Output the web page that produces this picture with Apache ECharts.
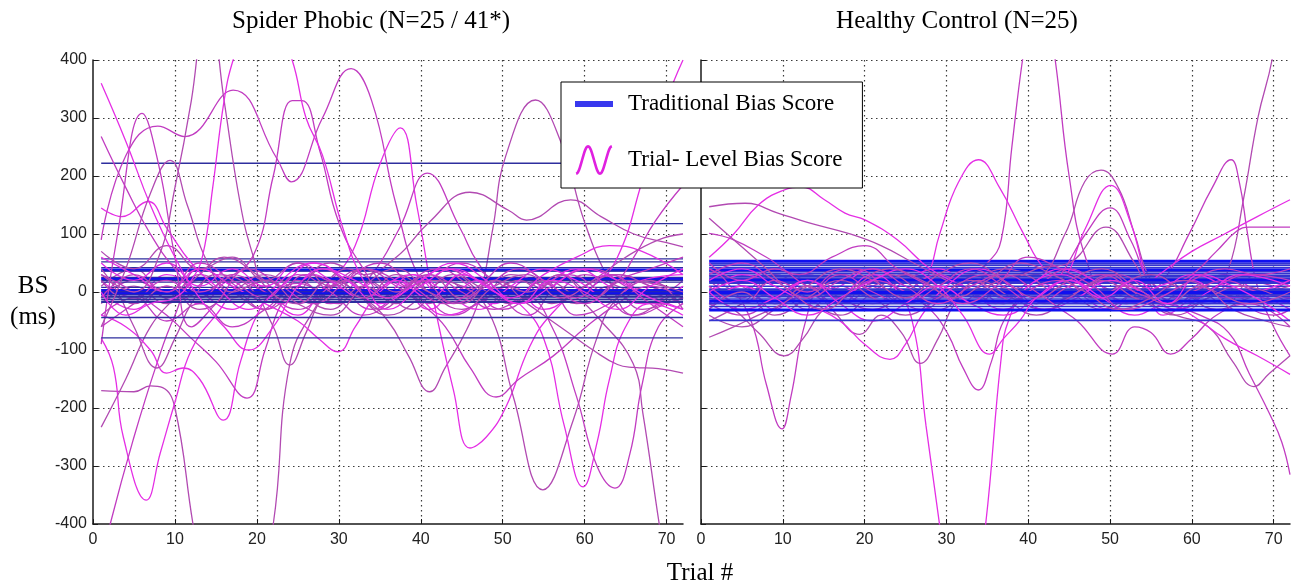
<!DOCTYPE html>
<html>
<head>
<meta charset="utf-8">
<script src="https://cdn.jsdelivr.net/npm/echarts@6/dist/echarts.min.js"></script>
<style>html,body{margin:0;padding:0;background:#fff}#chart{width:1291px;height:588px}</style>
</head>
<body>
<div id="chart"></div>
<script>
// ---------------- DATA ----------------
const panelTitles = ['Spider Phobic (N=25 / 41*)', 'Healthy Control (N=25)'];
const xTicks = [0, 10, 20, 30, 40, 50, 60, 70];
const yTicks = [-400, -300, -200, -100, 0, 100, 200, 300, 400];
const legendNames = ['Traditional Bias Score', 'Trial- Level Bias Score'];

// Traditional (mean) bias score per participant, ms
const spiderTraditional = [222, 118, 57, 52, 42, 38, 36, 25, 22, 20, 17, 8, 4, 2, 0, -1, -3, -5, -8, -10, -13, -16, -18, -44, -79];
const controlTraditional = [53, 49, 46, 42, 38, 35, 32, 29, 26, 23, 20, 17, 15, 10, 5, 2, -1, -5, -8, -12, -16, -20, -25, -31, -49];

// Trial-level bias score curves: [trial, BS] points
const spiderTrial = [
 [[1,90],[4,235],[7.9,286],[11.2,268],[17.1,348],[22.4,231],[24.2,190],[28,300],[31.5,385],[34,330],[37,150],[40,20],[44,-40],[48,-10],[52,20],[56,0],[60,30],[64,10],[68,-10],[72,20]],
 [[1,-20],[5,10],[9,-20],[13,20],[17,-10],[21,20],[25,-10],[29,20],[33,-10],[36,-50],[38.5,-110],[41.1,-172],[43,-130],[45.6,-65],[47.2,-8],[48.8,110],[50.4,236],[54,331],[57,262],[60,120],[63,20],[66,-40],[69,-20],[72,10]],
 [[1,20],[5,-10],[9,30],[13,0],[17,-30],[21,10],[25,-20],[29,20],[32,80],[35,220],[37.5,283],[39.5,150],[41.5,-10],[44,-170],[46,-269],[48,-250],[50.4,-198],[53.3,-94],[56,-37],[60,10],[64,30],[68,10],[72,-20]],
 [[1,-10],[5,20],[10,-15],[15,25],[20,-5],[25,15],[30,-20],[34,30],[37.4,110],[40.8,205],[44.8,110],[47,50],[51,-10],[55,20],[59,-40],[63,-20],[67,20],[72,-5]],
 [[1,10],[5,40],[9,-10],[13,30],[17,0],[21,-30],[25,10],[29,50],[33,30],[37,60],[41,120],[46,172],[50.7,141],[52.9,124],[58.3,159],[62,130],[66,100],[70,85],[72,78]],
 [[1,0],[5,-30],[9,10],[13,-20],[17,20],[21,0],[25,-40],[29,10],[33,-10],[37,20],[41,-30],[45,10],[49,-20],[53,20],[57,-10],[61,10],[64,60],[67,190],[70,330],[72,400]],
 [[1,-40],[5,-10],[9,-50],[13,-20],[17,-60],[21,-30],[25,10],[29,-20],[33,20],[37,-10],[41,20],[45,50],[49,20],[53,-10],[57,30],[61,0],[64,20],[66,60],[68.7,124],[72,184]],
 [[1,-170],[5,-172],[7,-162],[8.5,-165],[10,-200],[12.2,-400],[17,-800],[22,-400],[24,-125],[27,-30],[31,40],[35,10],[39,-30],[43,20],[47,-10],[51,30],[55,10],[59,-20],[63,10],[67,-30],[72,0]],
 [[1,-80],[2.5,-130],[3.7,-250],[6.5,-359],[8.2,-278],[10,-190],[12,-100],[15,-40],[19,20],[23,-20],[27,30],[31,-10],[35,20],[39,0],[43,-40],[47,-20],[51,10],[55,-30],[59,0],[63,30],[67,0],[72,-30]],
 [[1,-470],[2.1,-400],[4.9,-255],[7.8,-123],[10,-40],[13,40],[17,10],[21,-30],[25,20],[29,-10],[33,40],[37,20],[41,-20],[45,30],[49,0],[53,-40],[57,20],[61,40],[65,10],[69,-20],[72,-10]],
 [[1,-233],[4,-150],[7,-60],[10,-10],[13,30],[16,60],[20,30],[24,-10],[28,40],[32,0],[36,-40],[40,-10],[44,30],[48,0],[52,20],[56,-20],[60,10],[64,30],[68,10],[72,-10]],
 [[1,-40],[4,-60],[7,-100],[9,-140],[11,-131],[13,-150],[15.9,-221],[18,-120],[20,-40],[23,20],[27,50],[31,20],[35,-10],[39,30],[43,-10],[47,20],[51,-20],[55,10],[59,40],[63,10],[67,-20],[72,10]],
 [[1,30],[5,0],[9,-40],[12,-80],[15,-120],[18.8,-183],[21,-100],[23,-20],[26,30],[30,10],[34,-30],[38,10],[42,40],[46,10],[50,-30],[54,0],[58,30],[62,0],[66,-40],[70,-20],[72,-10]],
 [[1,40],[3,0],[5,-60],[7.8,-131],[10,-80],[12,-20],[15,30],[19,10],[22,-60],[24,-126],[26,-70],[28,-10],[31,20],[35,-30],[39,10],[43,40],[47,10],[51,-20],[55,20],[59,-10],[62,-50],[65.9,-123],[67.1,-209],[69.1,-400],[70.5,-520]],
 [[1,60],[5,30],[9,0],[13,40],[17,10],[21,-20],[25,-50],[27.5,-80],[29.9,-103],[32,-60],[35,0],[39,30],[43,0],[47,-30],[51,10],[55,40],[59,20],[63,-10],[67,20],[72,30]],
 [[1,-60],[5,-20],[9,20],[13,-10],[17,30],[21,0],[25,-30],[29,10],[33,40],[37,10],[40,-20],[43,-60],[46,-130],[49.2,-181],[52,-150],[56.1,-111],[60.2,-60],[64,-20],[68,10],[72,-10]],
 [[1,20],[5,-20],[9,10],[13,-30],[17,0],[21,30],[25,0],[29,-30],[33,10],[37,-20],[41,20],[45,10],[48.4,-37],[51.3,-181],[54.9,-341],[58.6,-221],[61.4,-83],[64,-10],[68,20],[72,-30]],
 [[1,50],[5,20],[9,50],[13,10],[17,40],[21,10],[25,50],[29,20],[33,-10],[37,20],[41,-10],[45,30],[49,0],[52,-20],[55,-80],[57.5,-230],[59.8,-336],[61.5,-260],[63,-152],[65,-60],[68,-20],[72,-40]],
 [[1,-10],[5,30],[9,0],[13,50],[17,20],[21,-10],[25,30],[29,0],[33,-40],[37,-10],[41,30],[45,0],[49,-30],[53,-10],[56,-60],[59,-180],[61.5,-300],[63.7,-338],[65.5,-280],[67,-160],[69,-60],[72,-20]],
 [[1,70],[5,40],[9,80],[13,40],[17,60],[21,20],[25,50],[29,10],[33,40],[37,0],[41,30],[45,-10],[49,20],[53,-20],[57.6,-66],[61,-100],[64,-125],[66,-130],[69,-132],[72,-140]],
 [[1,145],[3.5,130],[6.7,156],[9,110],[12,50],[15,10],[19,-30],[23,10],[27,50],[31,20],[35,-20],[39,10],[43,40],[47,20],[51,-10],[55,30],[59,60],[63,80],[67,70],[72,30]],
 [[1,-90],[3,100],[6,308],[8,220],[10,60],[12,-60],[15,-20],[19,40],[23,10],[27,-20],[31,20],[35,50],[39,10],[43,-20],[47,10],[51,50],[55,20],[59,-10],[63,30],[67,-10],[72,-60]],
 [[1,-60],[4,40],[7,170],[9.4,227],[11.5,150],[14,50],[17,0],[21,20],[25,-20],[29,-40],[33,10],[37,40],[41,0],[45,-30],[49,10],[53,30],[57,-10],[61,20],[65,60],[69,90],[72,100]],
 [[1,360],[4,260],[7,150],[10,60],[13,-10],[16,-60],[19,-100],[22,-60],[25,10],[28,40],[32,20],[36,-10],[40,20],[44,50],[48,20],[52,-20],[56,10],[60,40],[64,20],[68,-10],[72,-30]],
 [[1,268],[4,180],[7,100],[10,40],[13,0],[16,20],[19.6,64],[22,200],[24.3,330],[25.5,330],[27.7,242],[30,120],[33,40],[36,-10],[40,20],[44,-20],[48,10],[52,40],[56,10],[60,-20],[64,20],[68,40],[72,60]],
 [[1,30],[5,0],[8,60],[10,180],[12,330],[14,520],[16,330],[18,150],[19.5,64],[21,10],[25,-20],[29,20],[33,-10],[37,30],[41,0],[45,-20],[49,20],[53,0],[57,30],[61,-10],[65,20],[72,0]],
 [[1,0],[4,-40],[7,-20],[10,-10],[12,20],[13.4,64],[14.6,179],[16,330],[17.1,400],[20.5,540],[24.3,400],[26,300],[28,236],[30.5,110],[33,20],[36,-30],[40,10],[44,40],[48,10],[52,-20],[56,20],[60,0],[64,-30],[68,10],[72,40]]
];

const controlTrial = [
 [[1,20],[5,-10],[9,30],[13,0],[17,-20],[21,10],[25,30],[29,0],[32,20],[35,50],[36.7,90],[38,250],[39.3,400],[41.3,580],[43.3,400],[45,200],[47,60],[50,-10],[54,20],[58,-10],[62,10],[66,-20],[70,-40],[72,-30]],
 [[1,-30],[5,0],[9,-20],[13,10],[17,-10],[21,20],[25,0],[29,-20],[33,10],[37,-10],[41,20],[45,0],[49,-30],[53,0],[57,20],[60,-10],[62.5,0],[64.5,40],[66.3,159],[68.1,302],[69.8,400],[72,600]],
 [[1,-20],[5,10],[9,-30],[13,20],[17,-10],[21,10],[25,-20],[27.5,20],[29.2,101],[31.5,190],[33.9,228],[36.5,180],[39.4,101],[42,40],[46,0],[50,-30],[54,10],[58,-20],[62,20],[66,0],[72,-20]],
 [[1,10],[5,-20],[9,0],[13,-30],[17,10],[21,-10],[25,20],[29,-10],[33,10],[37,-20],[41,10],[45,30],[49,0],[53,-20],[56.5,20],[59.7,101],[62.5,180],[64.8,228],[65.8,190],[66.8,101],[68,10],[70,-60],[72,-110]],
 [[1,30],[5,0],[9,40],[13,10],[17,-20],[21,20],[25,0],[29,-30],[33,10],[37,40],[41,30],[44.5,100],[46.9,190],[48.9,210],[51,180],[53,100],[55,20],[58,-20],[62,10],[66,-10],[72,20]],
 [[1,-30],[5,10],[9,-10],[13,30],[17,0],[21,-20],[25,20],[29,40],[33,0],[37,-30],[41,10],[44,20],[47,110],[50.1,184],[52.5,120],[54.5,20],[56.5,-40],[60,-10],[64,30],[68,0],[72,-30]],
 [[1,40],[5,10],[9,-20],[13,0],[17,30],[21,10],[25,-20],[29,10],[33,30],[37,0],[41,-20],[44,30],[47,100],[50,145],[52.5,90],[55,10],[58,-30],[62,-10],[66,20],[72,0]],
 [[1,-50],[5,-20],[9,20],[13,-10],[17,-40],[21,0],[25,30],[29,10],[33,-20],[37,10],[41,40],[45,50],[49.5,112],[53,50],[56,-20],[60,10],[64,-20],[68,30],[72,10]],
 [[1,0],[5,30],[9,10],[13,-20],[17,10],[21,40],[25,10],[29,-10],[33,20],[37,-10],[41,20],[45,-10],[49,20],[53,0],[56,30],[60,70],[64,100],[68,130],[72,159]],
 [[1,-20],[5,-40],[9,-10],[13,20],[17,-10],[21,-30],[25,0],[29,30],[33,0],[37,-20],[41,10],[45,40],[49,10],[53,-10],[57,10],[60,30],[63,70],[65.5,105],[67,112],[72,112]],
 [[1,147],[5.4,153],[9.4,136],[13,120],[18,101],[22,80],[26,50],[30,20],[34,-10],[38,10],[42,-20],[46,0],[50,30],[54,-10],[58,10],[62,-20],[66,0],[72,-10]],
 [[1,60],[4,100],[7,150],[10,175],[12.3,181],[15,160],[17.6,136],[20.1,124],[24,90],[28,40],[32,10],[36,-20],[40,10],[44,40],[48,20],[52,-20],[56,0],[60,30],[64,10],[68,-20],[72,-10]],
 [[1,40],[3,20],[6.1,-49],[8,-160],[9.9,-236],[11,-180],[12.7,-55],[15,20],[19,40],[23,0],[27,-30],[31,10],[35,30],[39,0],[43,-20],[47,10],[51,30],[55,0],[59,-20],[63,10],[67,30],[72,20]],
 [[1,-10],[4,-30],[7,-70],[10.2,-110],[12.5,-80],[15,-30],[19,0],[23,30],[27,0],[31,-20],[35,10],[39,30],[43,0],[47,-20],[51,10],[55,30],[59,0],[63,-30],[67,-10],[72,10]],
 [[1,-20],[5,10],[9,-10],[13,20],[17,0],[21,30],[23.5,10],[25.8,-49],[27.5,-230],[29.2,-405],[32,-700],[34.8,-400],[36.7,-113],[37.6,-49],[40,10],[44,30],[48,0],[52,-20],[56,10],[60,20],[64,-10],[68,0],[72,20]],
 [[1,50],[5,20],[9,40],[13,10],[17,-10],[21,20],[25,0],[28,-30],[30.2,-73],[32,-130],[33.9,-169],[35.5,-120],[37,-50],[40,0],[44,20],[48,-10],[52,10],[56,-20],[60,0],[64,20],[68,0],[72,-10]],
 [[1,-40],[5,-60],[9,-30],[13,10],[16,-30],[19.4,-73],[22,-40],[24.5,-70],[26.8,-123],[29,-80],[31,-20],[34,20],[38,-10],[42,-30],[46,0],[50,20],[54,-10],[58,-40],[62,-10],[66,10],[72,-20]],
 [[1,20],[5,40],[9,10],[13,-20],[17,-50],[20,-90],[23.1,-116],[25,-90],[27,-40],[30,10],[34,40],[38,10],[42,-30],[46,-10],[50,20],[54,0],[58,-30],[62,0],[66,30],[72,10]],
 [[1,10],[5,-20],[9,20],[13,0],[17,30],[21,0],[25,-20],[29,10],[33,40],[37,10],[41,-20],[45,10],[49,30],[53,0],[57,-20],[61,-40],[64.5,-70],[67,-140],[69.5,-210],[71,-259],[72,-315]],
 [[1,-30],[5,0],[9,-40],[13,-10],[17,20],[21,-10],[25,-40],[29,-10],[33,20],[37,-10],[41,-40],[45,-10],[49,20],[53,-10],[58,-40],[62,-60],[65,-120],[67.6,-163],[69.5,-140],[72,-110]],
 [[1,0],[5,-30],[9,-10],[13,20],[17,-20],[21,-50],[25,-20],[29,10],[33,-20],[37,-40],[41,-10],[45,20],[49,-10],[53,-40],[57,-20],[60,-40],[64,-80],[68,-110],[72,-142]],
 [[1,30],[5,50],[9,20],[13,-10],[17,20],[21,40],[25,10],[29,-20],[33,10],[37,30],[41,0],[44,-30],[46,-50],[50.3,-107],[53,-60],[55,-70],[57.4,-107],[60,-80],[63,-40],[67,-20],[72,-60]],
 [[1,-78],[4,-60],[7,-40],[10,-20],[13,10],[17,40],[21,20],[25,-10],[29,30],[33,50],[37,20],[41,-10],[45,20],[49,40],[53,10],[57,-20],[61,10],[65,-30],[69,-50],[72,-60]],
 [[1,0],[5,20],[9,-10],[13,-40],[17,-10],[21,20],[25,40],[29,10],[32,-40],[35.3,-107],[37,-80],[39,-49],[41,-10],[45,20],[49,-10],[53,20],[57,-20],[61,30],[65,10],[69,-20],[72,-50]],
 [[1,101],[4,90],[8,60],[12,30],[16,60],[20,80],[24,40],[28,10],[32,-20],[36,10],[40,60],[44,40],[48,10],[52,-30],[56,-10],[60,20],[64,40],[68,30],[72,40]],
 [[1,127],[4,90],[8,40],[11,0],[15,-30],[19,10],[23,40],[27,20],[31,-10],[35,20],[39,50],[43,30],[47,0],[51,-30],[55,-10],[59,20],[63,0],[67,-20],[72,0]]
];

// ---------------- STYLE ----------------
const X_MIN = 0, X_MAX = 72, Y_MIN = -400, Y_MAX = 400;
const TRAD_START = 1, TRAD_END = 72;
const thickIdx = [[5, 8, 13, 16], [0, 4, 10, 16, 20, 23]];
const blueThin = ['#2e2e9e', '#3434d0'];
const blueThick = '#1010f0';
const magentaPalette = ['#c13cc1', '#b24ab2', '#e52ee5'];
const serif = '"Liberation Serif", "Times New Roman", serif';
const sans = '"Liberation Sans", Arial, sans-serif';

function sineIconPath() {
  const w = 30, h = 26, n = 48, t = 1.1;
  const pts = [];
  for (let i = 0; i <= n; i++) {
    const s = i / n;
    const ph = -Math.PI / 2 + 3 * Math.PI * s;
    pts.push([w * s, h / 2 - (h / 2 - 1.5) * Math.sin(ph)]);
  }
  const up = [], dn = [];
  for (let i = 0; i <= n; i++) {
    const a = pts[Math.max(0, i - 1)], b = pts[Math.min(n, i + 1)];
    const dx = b[0] - a[0], dy = b[1] - a[1];
    const L = Math.hypot(dx, dy) || 1;
    const nx = -dy / L, ny = dx / L;
    up.push([pts[i][0] + nx * t, pts[i][1] + ny * t]);
    dn.push([pts[i][0] - nx * t, pts[i][1] - ny * t]);
  }
  const all = up.concat(dn.reverse());
  return 'path://M' + all.map(p => p[0].toFixed(2) + ',' + p[1].toFixed(2)).join('L') + 'Z';
}

const series = [];
[[spiderTraditional, spiderTrial], [controlTraditional, controlTrial]].forEach(([trad, trial], g) => {
  const n = Math.max(trad.length, trial.length);
  for (let i = 0; i < n; i++) {
    if (i < trad.length) {
      const thick = thickIdx[g].includes(i);
      series.push({
        name: legendNames[0], type: 'line', xAxisIndex: g, yAxisIndex: g,
        data: [[TRAD_START, trad[i]], [TRAD_END, trad[i]]],
        symbol: 'none', silent: true,
        lineStyle: { color: thick ? blueThick : blueThin[g], width: thick ? 3 : (g ? 1.6 : 1.3) }
      });
    }
    if (i < trial.length) {
      series.push({
        name: legendNames[1], type: 'line', xAxisIndex: g, yAxisIndex: g,
        data: trial[i], smooth: 0.45, symbol: 'none', silent: true, clip: true,
        lineStyle: { color: magentaPalette[i % magentaPalette.length], width: 1.3 }
      });
    }
  }
});

const axisLineStyle = { color: '#1a1a1a', width: 1.5 };
const gridDot = { type: [1.5, 3.5], color: '#3a3a3a', width: 1.2 };

const option = {
  backgroundColor: '#ffffff',
  animation: false,
  grid: [
    { left: 93, top: 60, width: 590, height: 464 },
    { left: 701, top: 60, width: 589, height: 464 }
  ],
  xAxis: [0, 1].map(i => ({
    gridIndex: i, type: 'value', min: X_MIN, max: X_MAX, interval: xTicks[1] - xTicks[0],
    axisLine: { show: true, onZero: false, lineStyle: axisLineStyle },
    axisTick: { show: true, inside: true, length: 5, lineStyle: { color: '#1a1a1a' } },
    axisLabel: { showMaxLabel: false, margin: 8, fontFamily: sans, fontSize: 16, color: '#222',
                 formatter: v => xTicks.includes(v) ? String(v) : '' },
    splitLine: { show: true, showMinLine: false, showMaxLine: false, lineStyle: gridDot }
  })),
  yAxis: [0, 1].map(i => ({
    gridIndex: i, type: 'value', min: Y_MIN, max: Y_MAX, interval: yTicks[1] - yTicks[0],
    axisLine: { show: true, onZero: false, lineStyle: axisLineStyle },
    axisTick: { show: true, inside: true, length: 5, lineStyle: { color: '#1a1a1a' } },
    axisLabel: { show: i === 0, margin: 6, fontFamily: sans, fontSize: 16, color: '#222',
                 formatter: v => yTicks.includes(v) ? String(v) : '' },
    splitLine: { show: true, showMinLine: false, showMaxLine: true, lineStyle: gridDot }
  })),
  legend: {
    orient: 'vertical', left: 561, top: 82,
    padding: [8, 20, 13, 14], itemGap: 27, itemWidth: 38, itemHeight: 30,
    backgroundColor: '#ffffff', borderColor: '#000', borderWidth: 1,
    selectedMode: false,
    textStyle: { fontFamily: serif, fontSize: 23, lineHeight: 28, color: '#000', padding: [0, 0, 0, 10] },
    data: [
      { name: legendNames[0], icon: 'path://M0,0H38V6H0Z', itemStyle: { color: '#3838ee' } },
      { name: legendNames[1], icon: sineIconPath(), itemStyle: { color: '#e020e0' } }
    ]
  },
  graphic: [
    { type: 'text', x: 371, y: 21, style: { text: panelTitles[0], font: '25px ' + serif, fill: '#000', align: 'center', verticalAlign: 'middle' } },
    { type: 'text', x: 957, y: 21, style: { text: panelTitles[1], font: '25px ' + serif, fill: '#000', align: 'center', verticalAlign: 'middle' } },
    { type: 'text', x: 33, y: 286, style: { text: 'BS', font: '25px ' + serif, fill: '#000', align: 'center', verticalAlign: 'middle' } },
    { type: 'text', x: 33, y: 317, style: { text: '(ms)', font: '25px ' + serif, fill: '#000', align: 'center', verticalAlign: 'middle' } },
    { type: 'text', x: 700, y: 573, style: { text: 'Trial #', font: '25px ' + serif, fill: '#000', align: 'center', verticalAlign: 'middle' } }
  ],
  series: series
};

const chart = echarts.init(document.getElementById('chart'), null, { renderer: 'canvas' });
chart.setOption(option);
</script>
</body>
</html>
